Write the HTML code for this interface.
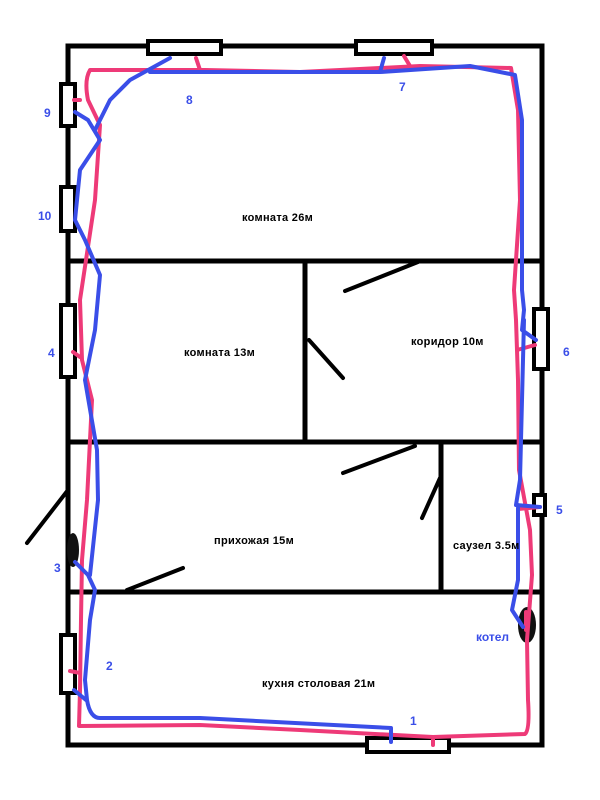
<!DOCTYPE html>
<html><head><meta charset="utf-8"><style>body{margin:0;background:#fff}svg{display:block}</style></head><body>
<svg width="600" height="800" xmlns="http://www.w3.org/2000/svg" font-family="Liberation Sans, DejaVu Sans, sans-serif">
<rect width="600" height="800" fill="#fff"/>
<g stroke="#000" stroke-width="5" fill="none" stroke-linecap="square">
<rect x="68" y="46" width="474" height="699"/>
<line x1="68" y1="261" x2="542" y2="261"/>
<line x1="68" y1="442" x2="542" y2="442"/>
<line x1="68" y1="592" x2="542" y2="592"/>
<line x1="305" y1="261" x2="305" y2="442"/>
<line x1="441" y1="442" x2="441" y2="592"/>
</g>
<g stroke="#000" stroke-width="4" stroke-linecap="round">
<line x1="345" y1="291" x2="418" y2="262"/>
<line x1="309" y1="340" x2="343" y2="378"/>
<line x1="343" y1="473" x2="415" y2="446"/>
<line x1="422" y1="518" x2="440" y2="478"/>
<line x1="27" y1="543" x2="68" y2="490"/>
<line x1="127" y1="590" x2="183" y2="568"/>
</g>
<g stroke="#000" stroke-width="4" fill="#fff">
<rect x="148" y="41" width="73" height="13"/>
<rect x="356" y="41" width="76" height="13"/>
<rect x="61" y="84" width="14" height="42"/>
<rect x="61" y="187" width="14" height="44"/>
<rect x="61" y="305" width="14" height="72"/>
<rect x="61" y="635" width="14" height="58"/>
<rect x="534" y="309" width="14" height="60"/>
<rect x="534" y="495" width="11" height="20"/>
<rect x="367" y="738" width="82" height="14"/>
</g>
<ellipse cx="73" cy="550" rx="6" ry="17" fill="#111"/>
<ellipse cx="527" cy="625" rx="9" ry="18" fill="#111"/>
<g fill="none" stroke="#ee3a78" stroke-width="4" stroke-linejoin="round" stroke-linecap="round">
<path d="M433,745 L433,737 L525,734 Q530,730 528,700 L527,640 L532,575 L530,530 L519,470 L518,380 L516,320 L514,290 L520,200 L518,110 L511,68 L420,66 L300,72 L205,70 L90,70 Q84,80 88,100 L100,125 L95,200 L80,300 L82,360 L92,400 L87,500 L82,560 L81,620 L80,690 L79,726 L200,725 L300,730 L433,737"/>
<path d="M200,70 L196,58 M410,66 L404,56 M80,100 L74,100 M80,357 L73,352 M80,673 L70,671 M517,350 L535,345 M518,509 L540,507 M526,630 L526,612"/>
</g>
<g fill="none" stroke="#3a4ee8" stroke-width="4" stroke-linejoin="round" stroke-linecap="round">
<path d="M391,742 L391,728 L200,718 L100,718 Q90,718 87,700 L85,680 L90,620 L95,590 L88,575 L75,562"/>
<path d="M90,575 L98,500 L97,450 L85,380 L95,330 L100,275 L85,240 L75,220 L80,170 L100,140 L88,120 L75,112"/>
<path d="M95,130 L110,100 L130,80 L170,58 M150,72 L380,72 L384,58 M380,72 L470,66 L515,75 L522,120 L522,290 L524,310 L522,330 L536,340 M524,320 L522,400 L520,480 L516,505 L540,507 M518,505 L518,580 L512,610 L523,627"/>
<path d="M86,700 L74,690"/>
</g>
<g fill="#3a4ee8" font-size="12" font-weight="bold">
<text x="44" y="117">9</text>
<text x="38" y="220">10</text>
<text x="48" y="357">4</text>
<text x="54" y="572">3</text>
<text x="106" y="670">2</text>
<text x="410" y="725">1</text>
<text x="186" y="104">8</text>
<text x="399" y="91">7</text>
<text x="563" y="356">6</text>
<text x="556" y="514">5</text>
<text x="476" y="641">котел</text>
</g>
<g fill="#000" font-size="11" font-weight="bold" letter-spacing="0.3">
<text x="242" y="221">комната 26м</text>
<text x="184" y="356">комната 13м</text>
<text x="411" y="345">коридор 10м</text>
<text x="214" y="544">прихожая 15м</text>
<text x="453" y="549">саузел 3.5м</text>
<text x="262" y="687">кухня столовая 21м</text>
</g>
</svg>
</body></html>
